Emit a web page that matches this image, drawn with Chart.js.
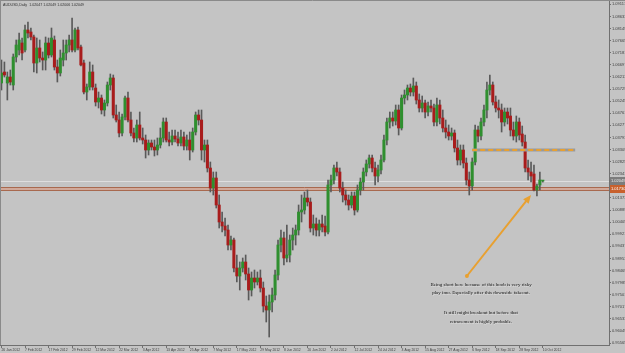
<!DOCTYPE html>
<html>
<head>
<meta charset="utf-8">
<script src="https://cdn.jsdelivr.net/npm/chart.js@4.4.0/dist/chart.umd.min.js"></script>
<style>
  html, body { margin: 0; padding: 0; background: #c4c4c4; }
  #wrap { width: 625px; height: 353px; }
</style>
</head>
<body>
<div id="wrap"><canvas id="chart" width="625" height="353"></canvas></div>
<script>
// AUDUSD daily candles, 26 Jan 2012 - 10 Oct 2012 (one label every 8 bars)
const dateTicks = [
  "26 Jan 2012", "7 Feb 2012", "17 Feb 2012", "29 Feb 2012", "12 Mar 2012", "22 Mar 2012",
  "3 Apr 2012", "13 Apr 2012", "25 Apr 2012", "7 May 2012", "17 May 2012", "29 May 2012",
  "8 Jun 2012", "20 Jun 2012", "2 Jul 2012", "12 Jul 2012", "24 Jul 2012", "3 Aug 2012",
  "15 Aug 2012", "27 Aug 2012", "6 Sep 2012", "18 Sep 2012", "28 Sep 2012", "10 Oct 2012",
];

const opens = [
  1.0597, 1.0641, 1.0597, 1.0621, 1.0589, 1.0701, 1.0729, 1.0757, 1.0729, 1.0809,
  1.0801, 1.0781, 1.0677, 1.0737, 1.0697, 1.0689, 1.0757, 1.0709, 1.0769, 1.0661,
  1.0637, 1.0689, 1.0717, 1.0749, 1.0769, 1.0729, 1.0809, 1.0741, 1.0677, 1.0561,
  1.0581, 1.0641, 1.0577, 1.0521, 1.0537, 1.0489, 1.0517, 1.0589, 1.0617, 1.0469,
  1.0449, 1.0397, 1.0461, 1.0537, 1.0449, 1.0397, 1.0377, 1.0429, 1.0377, 1.0369,
  1.0329, 1.0357, 1.0341, 1.0329, 1.0349, 1.0377, 1.0441, 1.0369, 1.0361, 1.0385,
  1.0373, 1.0357, 1.0381, 1.0345, 1.0369, 1.0329, 1.0401, 1.0469, 1.0449, 1.0329,
  1.0349, 1.0257, 1.0177, 1.0217, 1.0109, 1.0041, 1.0025, 1.0009, 0.9949, 0.9969,
  0.9857, 0.9825, 0.9857, 0.9881, 0.9833, 0.9769, 0.9817, 0.9801, 0.9817, 0.9777,
  0.9705, 0.9689, 0.9721, 0.9749, 0.9829, 0.9949, 0.9977, 0.9897, 0.9909, 0.9969,
  0.9989, 1.0009, 1.0081, 1.0089, 1.0137, 1.0121, 1.0017, 1.0033, 1.0009, 1.0033,
  1.0025, 1.0001, 1.0189, 1.0209, 1.0257, 1.0241, 1.0177, 1.0149, 1.0129, 1.0109,
  1.0145, 1.0089, 1.0169, 1.0201, 1.0241, 1.0273, 1.0297, 1.0257, 1.0225, 1.0249,
  1.0289, 1.0369, 1.0441, 1.0457, 1.0445, 1.0489, 1.0417, 1.0537, 1.0549, 1.0577,
  1.0561, 1.0585, 1.0529, 1.0497, 1.0517, 1.0481, 1.0505, 1.0497, 1.0441, 1.0509,
  1.0457, 1.0417, 1.0401, 1.0385, 1.0397, 1.0337, 1.0289, 1.0329, 1.0277, 1.0209,
  1.0185, 1.0281, 1.0409, 1.0385, 1.0441, 1.0489, 1.0569, 1.0589, 1.0521, 1.0497,
  1.0489, 1.0441, 1.0481, 1.0465, 1.0409, 1.0385, 1.0441, 1.0393, 1.0361, 1.0257,
  1.0241, 1.0233, 1.0169, 1.0189, 1.02047,
];
const highs = [
  1.0689, 1.0681, 1.0641, 1.0649, 1.0713, 1.0769, 1.0797, 1.0777, 1.0829, 1.0841,
  1.0817, 1.0789, 1.0777, 1.0769, 1.0721, 1.0781, 1.0777, 1.0817, 1.0785, 1.0689,
  1.0729, 1.0769, 1.0769, 1.0789, 1.0857, 1.0817, 1.0821, 1.0749, 1.0689, 1.0593,
  1.0681, 1.0669, 1.0593, 1.0561, 1.0549, 1.0529, 1.0601, 1.0633, 1.0629, 1.0509,
  1.0481, 1.0473, 1.0545, 1.0561, 1.0481, 1.0417, 1.0449, 1.0481, 1.0417, 1.0389,
  1.0369, 1.0369, 1.0369, 1.0377, 1.0417, 1.0457, 1.0457, 1.0401, 1.0409, 1.0409,
  1.0401, 1.0409, 1.0401, 1.0389, 1.0401, 1.0417, 1.0481, 1.0489, 1.0489, 1.0369,
  1.0369, 1.0281, 1.0241, 1.0241, 1.0149, 1.0081, 1.0057, 1.0029, 0.9985, 0.9977,
  0.9909, 0.9881, 0.9897, 0.9909, 0.9857, 0.9841, 0.9849, 0.9841, 0.9849, 0.9801,
  0.9745, 0.9749, 0.9777, 0.9849, 0.9969, 1.0009, 1.0001, 1.0029, 0.9989, 1.0017,
  1.0029, 1.0109, 1.0149, 1.0161, 1.0169, 1.0137, 1.0069, 1.0057, 1.0049, 1.0069,
  1.0065, 1.0209, 1.0229, 1.0269, 1.0281, 1.0257, 1.0201, 1.0169, 1.0149, 1.0161,
  1.0161, 1.0189, 1.0217, 1.0257, 1.0289, 1.0309, 1.0309, 1.0281, 1.0269, 1.0309,
  1.0389, 1.0457, 1.0481, 1.0481, 1.0509, 1.0509, 1.0549, 1.0569, 1.0589, 1.0593,
  1.0617, 1.0601, 1.0553, 1.0545, 1.0529, 1.0521, 1.0529, 1.0513, 1.0537, 1.0529,
  1.0489, 1.0449, 1.0429, 1.0417, 1.0409, 1.0369, 1.0349, 1.0349, 1.0297, 1.0241,
  1.0297, 1.0429, 1.0425, 1.0457, 1.0509, 1.0601, 1.0629, 1.0601, 1.0545, 1.0529,
  1.0513, 1.0497, 1.0497, 1.0497, 1.0441, 1.0465, 1.0457, 1.0425, 1.0389, 1.0289,
  1.0281, 1.0269, 1.0193, 1.0241, 1.02049,
];
const lows = [
  1.0569, 1.0621, 1.0529, 1.0589, 1.0569, 1.0681, 1.0709, 1.0689, 1.0721, 1.0777,
  1.0769, 1.0641, 1.0637, 1.0681, 1.0649, 1.0649, 1.0697, 1.0701, 1.0649, 1.0601,
  1.0625, 1.0665, 1.0689, 1.0721, 1.0721, 1.0721, 1.0729, 1.0665, 1.0553, 1.0529,
  1.0569, 1.0569, 1.0505, 1.0497, 1.0473, 1.0465, 1.0505, 1.0569, 1.0457, 1.0441,
  1.0381, 1.0385, 1.0449, 1.0441, 1.0385, 1.0361, 1.0361, 1.0369, 1.0353, 1.0297,
  1.0309, 1.0329, 1.0305, 1.0309, 1.0337, 1.0361, 1.0361, 1.0345, 1.0349, 1.0361,
  1.0345, 1.0345, 1.0329, 1.0329, 1.0289, 1.0321, 1.0389, 1.0429, 1.0289, 1.0281,
  1.0241, 1.0161, 1.0149, 1.0097, 1.0017, 1.0001, 0.9985, 0.9929, 0.9929, 0.9841,
  0.9801, 0.9769, 0.9841, 0.9809, 0.9729, 0.9745, 0.9777, 0.9789, 0.9761, 0.9681,
  0.9641, 0.9581, 0.9681, 0.9729, 0.9809, 0.9921, 0.9869, 0.9881, 0.9881, 0.9929,
  0.9949, 0.9989, 1.0041, 1.0073, 1.0105, 1.0001, 0.9989, 0.9985, 0.9985, 1.0001,
  0.9985, 0.9993, 1.0161, 1.0193, 1.0225, 1.0161, 1.0121, 1.0109, 1.0089, 1.0097,
  1.0069, 1.0081, 1.0149, 1.0169, 1.0225, 1.0257, 1.0241, 1.0189, 1.0201, 1.0233,
  1.0281, 1.0349, 1.0417, 1.0425, 1.0429, 1.0389, 1.0409, 1.0513, 1.0529, 1.0545,
  1.0545, 1.0513, 1.0481, 1.0481, 1.0457, 1.0465, 1.0481, 1.0425, 1.0425, 1.0433,
  1.0401, 1.0377, 1.0369, 1.0369, 1.0321, 1.0269, 1.0269, 1.0257, 1.0189, 1.0149,
  1.0169, 1.0269, 1.0361, 1.0369, 1.0425, 1.0457, 1.0549, 1.0509, 1.0481, 1.0457,
  1.0401, 1.0425, 1.0433, 1.0385, 1.0369, 1.0361, 1.0369, 1.0345, 1.0241, 1.0209,
  1.0201, 1.0165, 1.0145, 1.0169, 1.02006,
];
const closes = [
  1.0637, 1.0629, 1.0621, 1.0601, 1.0701, 1.0749, 1.0769, 1.0717, 1.0809, 1.0797,
  1.0781, 1.0677, 1.0737, 1.0697, 1.0689, 1.0757, 1.0709, 1.0777, 1.0661, 1.0637,
  1.0697, 1.0717, 1.0749, 1.0769, 1.0729, 1.0809, 1.0737, 1.0669, 1.0561, 1.0581,
  1.0641, 1.0581, 1.0521, 1.0537, 1.0489, 1.0517, 1.0589, 1.0617, 1.0469, 1.0449,
  1.0397, 1.0461, 1.0537, 1.0449, 1.0397, 1.0377, 1.0429, 1.0377, 1.0369, 1.0329,
  1.0357, 1.0341, 1.0329, 1.0349, 1.0377, 1.0441, 1.0369, 1.0361, 1.0385, 1.0373,
  1.0357, 1.0381, 1.0345, 1.0369, 1.0329, 1.0401, 1.0469, 1.0449, 1.0329, 1.0349,
  1.0257, 1.0177, 1.0217, 1.0109, 1.0041, 1.0025, 1.0009, 0.9949, 0.9969, 0.9857,
  0.9825, 0.9857, 0.9881, 0.9833, 0.9769, 0.9817, 0.9801, 0.9817, 0.9777, 0.9705,
  0.9689, 0.9721, 0.9749, 0.9829, 0.9949, 0.9977, 0.9897, 0.9909, 0.9969, 0.9989,
  1.0009, 1.0081, 1.0089, 1.0137, 1.0121, 1.0017, 1.0033, 1.0009, 1.0033, 1.0021,
  1.0001, 1.0189, 1.0209, 1.0257, 1.0241, 1.0177, 1.0149, 1.0129, 1.0109, 1.0145,
  1.0089, 1.0169, 1.0201, 1.0241, 1.0273, 1.0297, 1.0257, 1.0225, 1.0249, 1.0289,
  1.0369, 1.0441, 1.0457, 1.0445, 1.0489, 1.0417, 1.0537, 1.0549, 1.0577, 1.0561,
  1.0585, 1.0529, 1.0497, 1.0517, 1.0481, 1.0505, 1.0497, 1.0441, 1.0509, 1.0457,
  1.0417, 1.0401, 1.0385, 1.0397, 1.0337, 1.0289, 1.0329, 1.0277, 1.0209, 1.0185,
  1.0281, 1.0409, 1.0385, 1.0441, 1.0489, 1.0569, 1.0589, 1.0521, 1.0497, 1.0489,
  1.0441, 1.0481, 1.0457, 1.0409, 1.0385, 1.0441, 1.0389, 1.0361, 1.0257, 1.0241,
  1.0225, 1.0169, 1.0185, 1.0209, 1.02049,
];

// price scale labels on the right
const priceTicks = [
  0.95565, 0.96049, 0.96533, 0.97017, 0.97501, 0.97985, 0.98469, 0.98953, 0.99437, 0.99921,
  1.00405, 1.00889, 1.01373, 1.01857, 1.02341, 1.02825, 1.03309, 1.03793, 1.04277, 1.04761,
  1.05245, 1.05729, 1.06213, 1.06697, 1.07181, 1.07665, 1.08149, 1.08633, 1.09117,
];
const yMin = 0.9549;
const yMax = 1.0929;
const slotCount = 207; // bar slots across the window, empty space on the right

// drawn objects (in bar index / price)
const bidPrice = 1.02049;
const supportBand = [1.0167, 1.0179];
const supportLabel = "1.01730";
const resistance = { from: 160, to: 195, price: 1.0329 };
const arrow = { from: [158.2, 0.9825], to: [180, 1.0149] };
const notes = [
  { text: "Being short here because of this boob is very risky", at: [163, 0.9789] },
  { text: "play imo. Especially after this downside fakeout.", at: [163, 0.9757] },
  { text: "It still might breakout but before that", at: [163, 0.9677] },
  { text: "retracement is highly probable.", at: [163, 0.9641] },
];
const title = "AUDUSD,Daily  1.02047 1.02049 1.02006 1.02049";

const bodies = opens.map((o, i) => [o, closes[i]]);
const wicks = lows.map((l, i) => [l, highs[i]]);
const bodyColors = opens.map((o, i) => (closes[i] >= o ? "#2f8f2f" : "#a81c1c"));
const slots = Array.from({ length: slotCount }, (_, i) => i);

const overlay = {
  id: "overlay",
  beforeDraw(chart) {
    const ctx = chart.ctx;
    ctx.save();
    ctx.fillStyle = "#c4c4c4";
    ctx.fillRect(0, 0, chart.width, chart.height);
    ctx.restore();
  },
  beforeDatasetsDraw(chart) {
    const { ctx, chartArea: a, scales: { y } } = chart;
    ctx.save();
    // bid line
    const by = Math.round(y.getPixelForValue(bidPrice)) + 0.5;
    ctx.strokeStyle = "#dedede";
    ctx.lineWidth = 1;
    ctx.beginPath();
    ctx.moveTo(a.left, by);
    ctx.lineTo(a.right, by);
    ctx.stroke();
    // support band
    const t = y.getPixelForValue(supportBand[1]);
    const b = y.getPixelForValue(supportBand[0]);
    ctx.fillStyle = "rgba(214,160,140,0.75)";
    ctx.fillRect(a.left, t, a.right - a.left, b - t);
    ctx.strokeStyle = "#a8694f";
    ctx.beginPath();
    ctx.moveTo(a.left, t);
    ctx.lineTo(a.right, t);
    ctx.moveTo(a.left, b);
    ctx.lineTo(a.right, b);
    ctx.stroke();
    ctx.restore();
  },
  afterDatasetsDraw(chart) {
    const { ctx, scales: { x, y } } = chart;
    ctx.save();
    // dashed resistance line
    const ry = y.getPixelForValue(resistance.price);
    const rx1 = x.getPixelForValue(resistance.from);
    const rx2 = x.getPixelForValue(resistance.to);
    ctx.strokeStyle = "#999999";
    ctx.lineWidth = 3;
    ctx.beginPath();
    ctx.moveTo(rx1, ry);
    ctx.lineTo(rx2, ry);
    ctx.stroke();
    ctx.strokeStyle = "#e8a030";
    ctx.lineWidth = 2;
    ctx.setLineDash([5, 3]);
    ctx.beginPath();
    ctx.moveTo(rx1, ry);
    ctx.lineTo(rx2, ry);
    ctx.stroke();
    ctx.setLineDash([]);

    // arrow
    const ax1 = x.getPixelForValue(arrow.from[0]);
    const ay1 = y.getPixelForValue(arrow.from[1]);
    const ax2 = x.getPixelForValue(arrow.to[0]);
    const ay2 = y.getPixelForValue(arrow.to[1]);
    const ang = Math.atan2(ay2 - ay1, ax2 - ax1);
    const head = 9;
    ctx.strokeStyle = "#e8a030";
    ctx.fillStyle = "#e8a030";
    ctx.lineWidth = 2;
    ctx.beginPath();
    ctx.moveTo(ax1, ay1);
    ctx.lineTo(ax2 - Math.cos(ang) * head * 0.7, ay2 - Math.sin(ang) * head * 0.7);
    ctx.stroke();
    ctx.beginPath();
    ctx.moveTo(ax2, ay2);
    ctx.lineTo(ax2 - head * Math.cos(ang - 0.4), ay2 - head * Math.sin(ang - 0.4));
    ctx.lineTo(ax2 - head * Math.cos(ang + 0.4), ay2 - head * Math.sin(ang + 0.4));
    ctx.closePath();
    ctx.fill();
    ctx.beginPath();
    ctx.arc(ax1, ay1, 2, 0, Math.PI * 2);
    ctx.fill();

    // notes
    ctx.font = '5px "Liberation Serif"';
    ctx.textAlign = "center";
    ctx.textBaseline = "middle";
    notes.forEach((n) => {
      const nx = x.getPixelForValue(n.at[0]);
      const ny = y.getPixelForValue(n.at[1]);
      ctx.fillStyle = "rgba(255,255,255,0.45)";
      ctx.fillText(n.text, nx + 0.6, ny + 0.6);
      ctx.fillStyle = "#111111";
      ctx.fillText(n.text, nx, ny);
    });
    ctx.restore();
  },
  afterDraw(chart) {
    const { ctx, chartArea: a, scales: { y } } = chart;
    ctx.save();
    // window frame
    ctx.strokeStyle = "#8a8a8a";
    ctx.lineWidth = 1;
    ctx.beginPath();
    ctx.moveTo(0, 0.5);
    ctx.lineTo(chart.width, 0.5);
    ctx.moveTo(0.5, 0);
    ctx.lineTo(0.5, a.bottom);
    ctx.stroke();

    // title
    ctx.font = '3.6px "Liberation Sans"';
    ctx.fillStyle = "#303030";
    ctx.textAlign = "left";
    ctx.textBaseline = "middle";
    ctx.fillText(title, 3, 5);

    // price boxes on the scale
    const boxes = [
      { price: bidPrice, text: bidPrice.toFixed(5), fill: "#7c7c7c", color: "#eeeeee" },
      { price: (supportBand[0] + supportBand[1]) / 2, text: supportLabel, fill: "#c8602c", color: "#ffffff" },
    ];
    ctx.font = '4px "Liberation Sans"';
    boxes.forEach((bx) => {
      const py = y.getPixelForValue(bx.price);
      ctx.fillStyle = bx.fill;
      ctx.fillRect(a.right + 1, py - 4, chart.width - a.right - 1, 8);
      ctx.fillStyle = bx.color;
      ctx.fillText(bx.text, a.right + 2, py);
    });
    ctx.restore();
  },
};

new Chart(document.getElementById("chart"), {
  type: "bar",
  data: {
    labels: slots,
    datasets: [
      {
        label: "wicks",
        data: wicks,
        backgroundColor: "#5a5a5a",
        barThickness: 1,
        grouped: false,
        order: 2,
      },
      {
        label: "bodies",
        data: bodies,
        backgroundColor: bodyColors,
        barThickness: 2.4,
        minBarLength: 1,
        grouped: false,
        order: 1,
      },
    ],
  },
  options: {
    responsive: false,
    animation: false,
    devicePixelRatio: 1,
    layout: { padding: 0 },
    plugins: {
      legend: { display: false },
      tooltip: { enabled: false },
    },
    scales: {
      x: {
        type: "category",
        offset: true,
        grid: { drawOnChartArea: false, offset: false, tickLength: 3, color: "#707070" },
        border: { display: true, color: "#707070" },
        ticks: {
          autoSkip: false,
          maxRotation: 0,
          minRotation: 0,
          align: "start",
          padding: 0,
          color: "#404040",
          font: { family: "Liberation Sans", size: 3.4 },
          callback: (v) => dateTicks[v / 8],
        },
        afterBuildTicks: (s) => {
          s.ticks = s.ticks.filter((t) => t.value % 8 === 0 && t.value / 8 < dateTicks.length);
        },
        afterFit: (s) => {
          s.height = 8;
          s.paddingLeft = 0;
          s.paddingRight = 0;
        },
      },
      y: {
        position: "right",
        bounds: "data",
        min: yMin,
        max: yMax,
        grid: { drawOnChartArea: false, tickLength: 2, color: "#707070" },
        border: { display: true, color: "#707070" },
        ticks: {
          autoSkip: false,
          padding: 1,
          color: "#404040",
          font: { family: "Liberation Sans", size: 4 },
          callback: (v) => v.toFixed(5),
        },
        afterBuildTicks: (s) => {
          s.ticks = priceTicks.map((v) => ({ value: v }));
        },
        afterFit: (s) => {
          s.width = 16;
          s.paddingTop = 0;
          s.paddingBottom = 0;
        },
      },
    },
  },
  plugins: [overlay],
});
</script>
</body>
</html>
